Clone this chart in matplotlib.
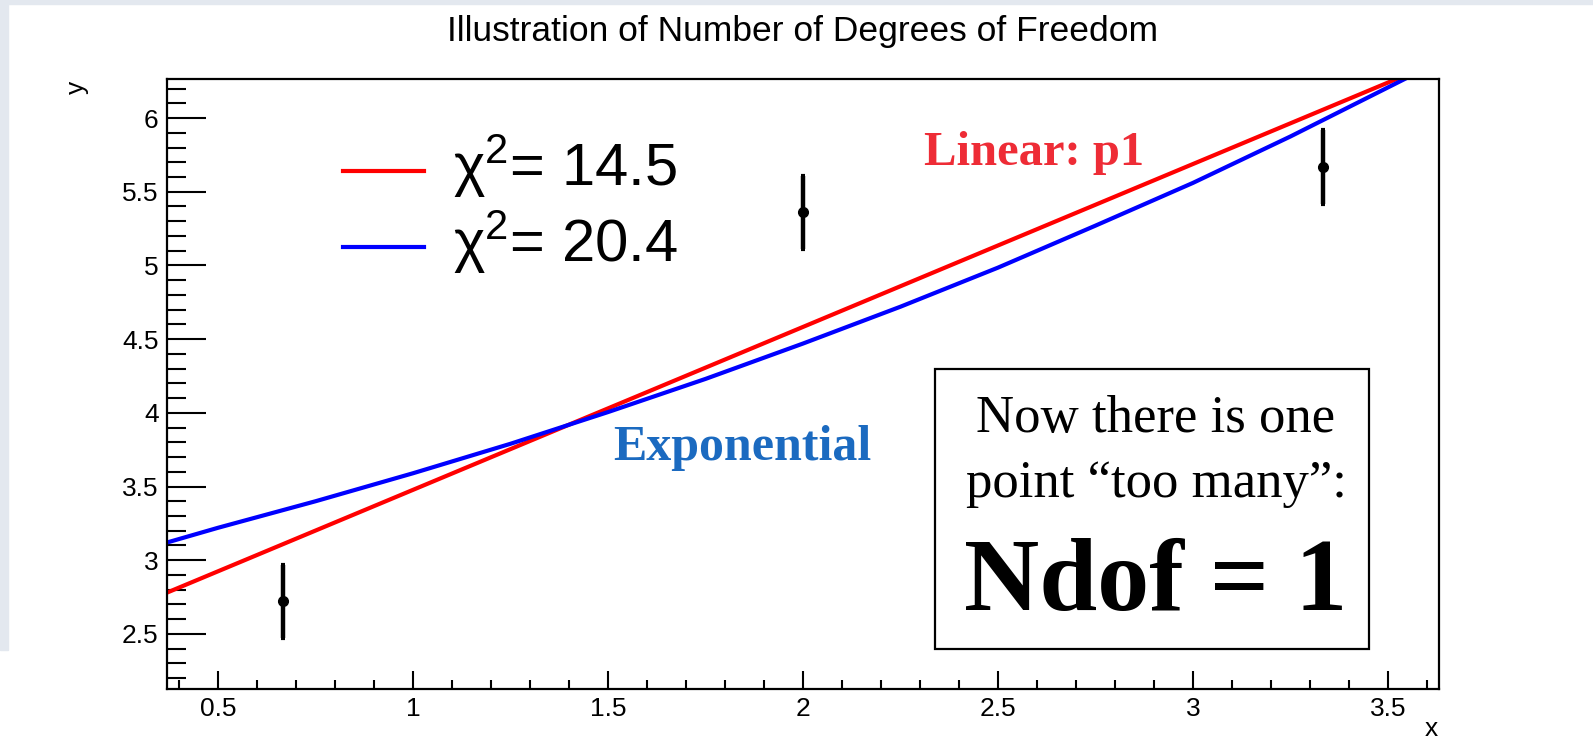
import numpy as np
import matplotlib
matplotlib.use("Agg")
import matplotlib.pyplot as plt
from matplotlib.lines import Line2D
from matplotlib.patches import Rectangle
from matplotlib.ticker import MultipleLocator

# Data points with errors
x_pts = [0.667, 2.0, 3.333]
y_pts = [2.72, 5.36, 5.67]
y_err = [0.25, 0.25, 0.25]

# Fit curves
lin_x = [0.369, 3.522]
lin_y = [2.78, 6.265]
exp_x = [0.369, 0.5, 0.75, 1.0, 1.25, 1.5, 1.75, 2.0, 2.25, 2.5, 2.75, 3.0, 3.25, 3.543]
exp_y = [3.12, 3.22, 3.40, 3.59, 3.79, 4.005, 4.23, 4.47, 4.72, 4.985, 5.27, 5.56, 5.875, 6.265]

chi2_labels = ["14.5", "20.4"]
box_lines = ["Now there is one", "point \u201ctoo many\u201d:"]

W, H = 1593, 738
def fx(px):
    return px / W
def fy(py):
    return 1 - py / H

sans = ["Liberation Sans", "DejaVu Sans"]
serif = ["Liberation Serif", "DejaVu Serif"]
plt.rcParams["font.family"] = sans
plt.rcParams["mathtext.fontset"] = "custom"
plt.rcParams["mathtext.rm"] = "Liberation Sans"
plt.rcParams["mathtext.it"] = "Liberation Sans"

fig = plt.figure(figsize=(W / 100, H / 100), dpi=100, facecolor="white")

# light textured border of the slide behind the canvas
fig.patches.append(Rectangle((0, fy(650)), fx(8), 1 - fy(650), transform=fig.transFigure,
                             color="#e3e8ef", zorder=0))
fig.patches.append(Rectangle((0, fy(4)), 1, 1 - fy(4), transform=fig.transFigure,
                             color="#e3e8ef", zorder=0))

ax = fig.add_axes([fx(167), fy(689), fx(1439) - fx(167), fy(79) - fy(689)])
ax.set_xlim(0.369, 3.631)
ax.set_ylim(2.126, 6.265)

ax.plot(lin_x, lin_y, color="#ff0000", lw=3)
ax.plot(exp_x, exp_y, color="#0000ff", lw=3)
ax.errorbar(x_pts, y_pts, yerr=y_err, fmt="o", color="black", ms=7,
            elinewidth=3.2, capsize=1.5, capthick=3)

for s in ax.spines.values():
    s.set_linewidth(1.6)
ax.xaxis.set_major_locator(MultipleLocator(0.5))
ax.xaxis.set_minor_locator(MultipleLocator(0.1))
ax.yaxis.set_major_locator(MultipleLocator(0.5))
ax.yaxis.set_minor_locator(MultipleLocator(0.1))
ax.tick_params(axis="y", which="major", direction="in", length=28, width=1.5,
               labelsize=19, pad=6, right=False)
ax.tick_params(axis="y", which="minor", direction="in", length=14, width=1.5, right=False)
ax.tick_params(axis="x", which="major", direction="in", length=13, width=1.5,
               labelsize=19, pad=6, top=False)
ax.tick_params(axis="x", which="minor", direction="in", length=6.5, width=1.5, top=False)
ax.xaxis.set_major_formatter(lambda v, p: f"{v:g}")
ax.yaxis.set_major_formatter(lambda v, p: f"{v:g}")

fig.text(fx(803), fy(31), "Illustration of Number of Degrees of Freedom",
         family=["Liberation Sans Narrow", "Liberation Sans"], fontsize=25.5,
         ha="center", va="center")
fig.text(fx(77), fy(87), "y", rotation=90, fontsize=19, ha="center", va="center")
fig.text(fx(1431), fy(729), "x", fontsize=19, ha="center", va="center")

# legend
for (py, col, lab) in [(171, "#ff0000", chi2_labels[0]), (247, "#0000ff", chi2_labels[1])]:
    fig.add_artist(Line2D([fx(343), fx(424)], [fy(py), fy(py)], color=col, lw=3))
    fig.text(fx(453), fy(py - 5), "\u03c7$^2$= " + lab, fontsize=43, ha="left",
             va="center")

fig.text(fx(924), fy(165), "Linear: p1", family=serif, fontweight="bold",
         fontsize=35, color="#ee2c36", ha="left", va="baseline")
fig.text(fx(613), fy(460), "Exponential", family=serif, fontweight="bold",
         fontsize=36, color="#1b6ac0", ha="left", va="baseline")

fig.patches.append(Rectangle((fx(935), fy(649)), fx(1369) - fx(935), fy(369) - fy(649),
                             transform=fig.transFigure, fill=False, ec="black", lw=1.6,
                             zorder=5))
fig.text(fx(1156), fy(432), box_lines[0], family=serif, fontsize=38,
         ha="center", va="baseline")
fig.text(fx(1156), fy(497), box_lines[1], family=serif, fontsize=38,
         ha="center", va="baseline")
fig.text(fx(1156), fy(610), "Ndof = 1", family=serif, fontweight="bold",
         fontsize=75, ha="center", va="baseline")

fig.savefig("out.png", dpi=100)
